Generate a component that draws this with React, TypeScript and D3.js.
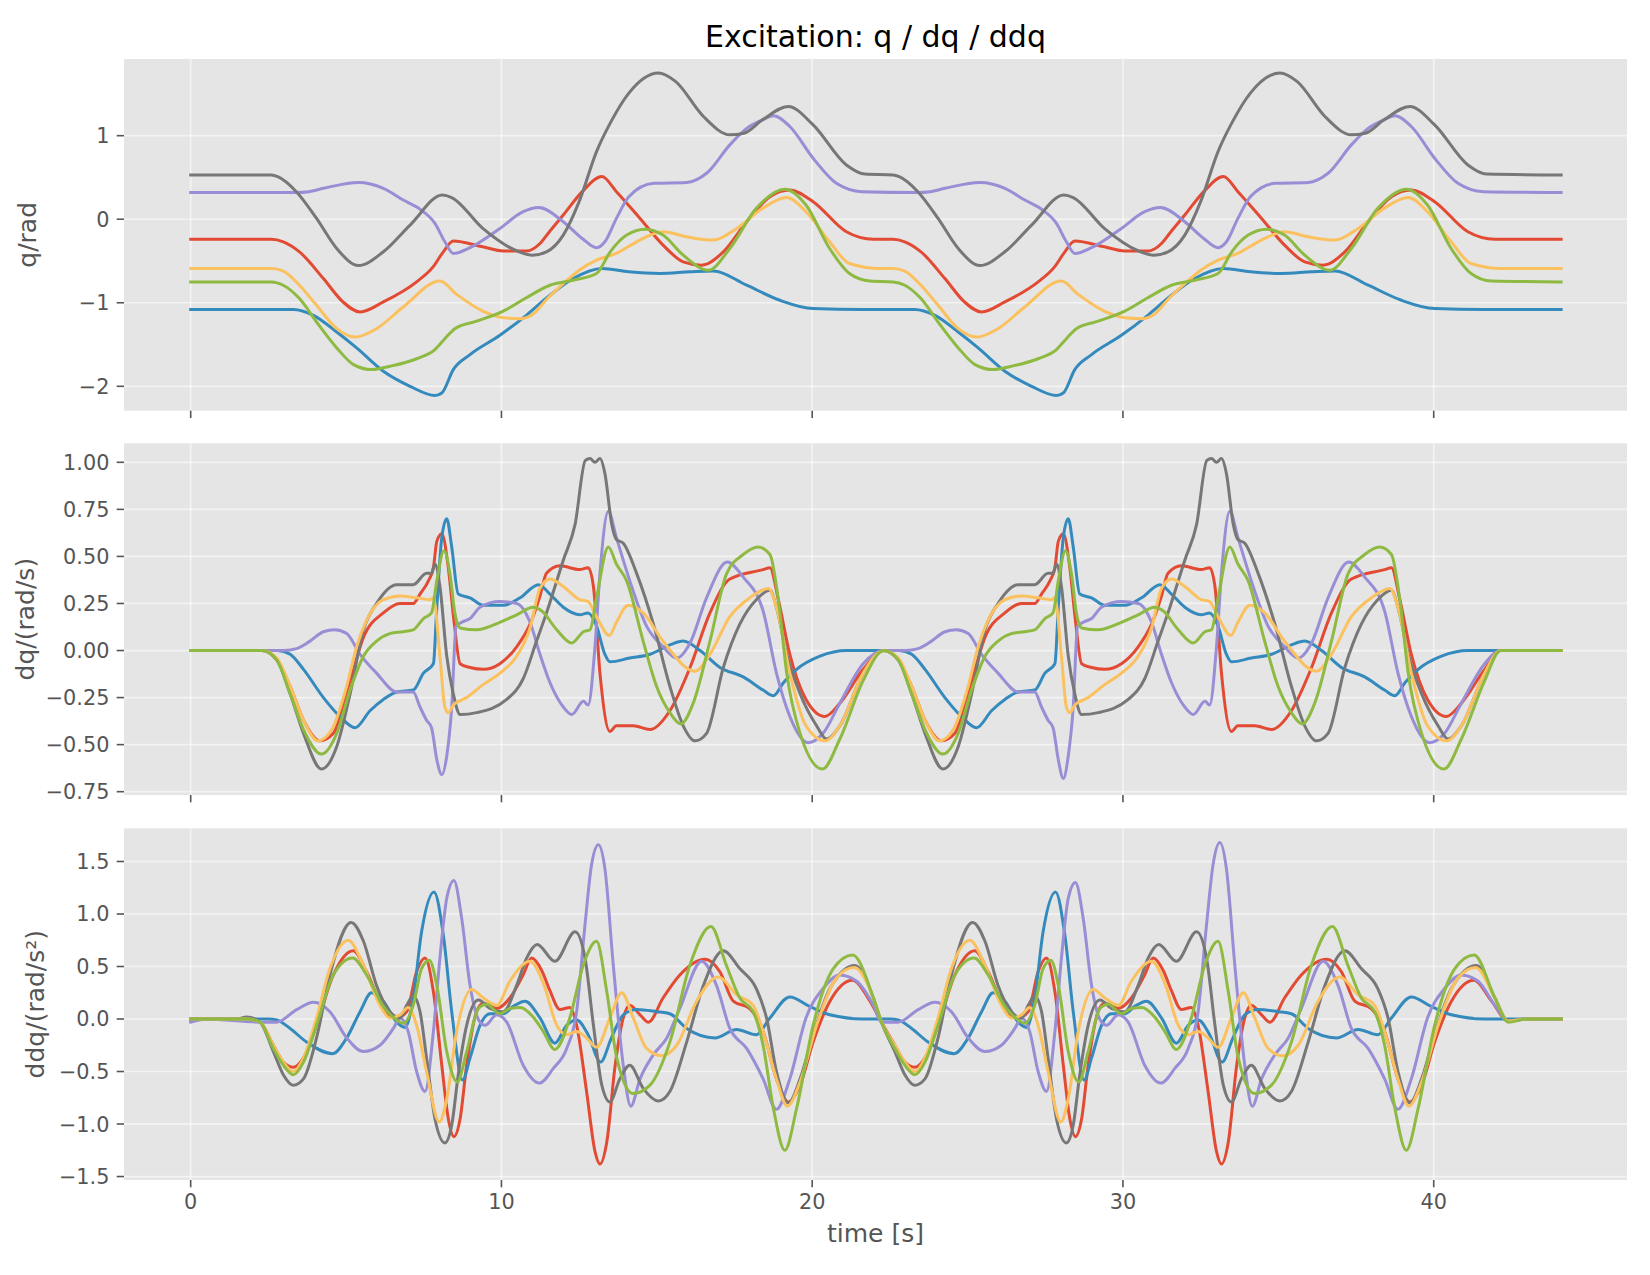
import * as d3 from "d3";

type Pt = [number, number];

// time ticks shared by all panels
const timeTicks = [0, 10, 20, 30, 40];
const colors = ["#E24A33", "#348ABD", "#988ED5", "#777777", "#FBC15E", "#8EBA42"];

// ---- q [rad] ----
const qRed: Pt[] = [[0,-0.24],[2.6,-0.24],[2.98,-0.27],[3.5,-0.39],[4.27,-0.71],[4.9,-0.99],[5.45,-1.11],[6.2,-0.99],[7.27,-0.75],[7.8,-0.57],[8.13,-0.39],[8.45,-0.26],[9.4,-0.33],[10.06,-0.38],[10.8,-0.38],[11.24,-0.29],[11.5,-0.17],[11.99,0.05],[12.6,0.33],[13.23,0.51],[13.7,0.33],[14.46,0.01],[15.2,-0.31],[15.85,-0.51],[16.44,-0.55],[17.14,-0.39],[17.89,-0.03],[18.64,0.27],[19.28,0.35],[20.03,0.21],[21.1,-0.15],[21.97,-0.24],
  [22.6,-0.24],[22.98,-0.27],[23.5,-0.39],[24.27,-0.71],[24.9,-0.99],[25.45,-1.11],[26.2,-0.99],[27.27,-0.75],[27.8,-0.57],[28.13,-0.39],[28.45,-0.26],[29.4,-0.33],[30.06,-0.38],[30.8,-0.38],[31.24,-0.29],[31.5,-0.17],[31.99,0.05],[32.6,0.33],[33.23,0.51],[33.7,0.33],[34.46,0.01],[35.2,-0.31],[35.85,-0.51],[36.44,-0.55],[37.14,-0.39],[37.89,-0.03],[38.64,0.27],[39.28,0.35],[40.03,0.21],[41.1,-0.15],[41.97,-0.24],[44.1,-0.24]];
const qBlue: Pt[] = [[0,-1.08],[3.3,-1.08],[3.95,-1.15],[4.7,-1.35],[5.34,-1.54],[6.2,-1.82],[7.06,-2.0],[7.86,-2.11],[8.08,-2.08],[8.45,-1.8],[8.99,-1.62],[9.95,-1.39],[10.8,-1.15],[11.56,-0.91],[12.31,-0.71],[13.23,-0.59],[14.1,-0.63],[15.1,-0.65],[16.07,-0.63],[16.82,-0.62],[17.89,-0.79],[18.96,-0.97],[20.03,-1.07],[21.6,-1.08],
  [23.3,-1.08],[23.95,-1.15],[24.7,-1.35],[25.34,-1.54],[26.2,-1.82],[27.06,-2.0],[27.86,-2.11],[28.08,-2.08],[28.45,-1.8],[28.99,-1.62],[29.95,-1.39],[30.8,-1.15],[31.56,-0.91],[32.31,-0.71],[33.23,-0.59],[34.1,-0.63],[35.1,-0.65],[36.07,-0.63],[36.82,-0.62],[37.89,-0.79],[38.96,-0.97],[40.03,-1.07],[41.6,-1.08],[44.1,-1.08]];
const qPurple: Pt[] = [[0,0.32],[3.4,0.32],[3.8,0.33],[4.27,0.37],[5.4,0.44],[6.2,0.37],[6.84,0.23],[7.38,0.12],[7.86,-0.05],[8.18,-0.27],[8.45,-0.41],[8.99,-0.34],[9.95,-0.11],[10.7,0.09],[11.2,0.14],[11.99,-0.03],[12.6,-0.23],[13.06,-0.34],[13.33,-0.27],[13.7,0.01],[14.1,0.27],[14.9,0.43],[15.96,0.44],[16.6,0.55],[17.35,0.89],[17.9,1.09],[18.4,1.19],[18.75,1.24],[19.28,1.11],[20.03,0.73],[20.78,0.43],[21.6,0.33],
  [23.4,0.32],[23.8,0.33],[24.27,0.37],[25.4,0.44],[26.2,0.37],[26.84,0.23],[27.38,0.12],[27.86,-0.05],[28.18,-0.27],[28.45,-0.41],[28.99,-0.34],[29.95,-0.11],[30.7,0.09],[31.2,0.14],[31.99,-0.03],[32.6,-0.23],[33.06,-0.34],[33.33,-0.27],[33.7,0.01],[34.1,0.27],[34.9,0.43],[35.96,0.44],[36.6,0.55],[37.35,0.89],[37.9,1.09],[38.4,1.19],[38.75,1.24],[39.28,1.11],[40.03,0.73],[40.78,0.43],[41.6,0.33],[44.1,0.32]];
const qGray: Pt[] = [[0,0.53],[2.6,0.53],[2.8,0.51],[3.4,0.33],[4.05,0.01],[4.7,-0.35],[5.4,-0.555],[6.2,-0.39],[7.06,-0.07],[8.1,0.29],[8.4,0.26],[9.4,-0.11],[10.5,-0.38],[11.0,-0.43],[11.45,-0.39],[11.99,-0.19],[12.5,0.21],[13.06,0.81],[13.5,1.15],[14.1,1.51],[15.05,1.75],[15.6,1.65],[16.5,1.23],[17.35,1.01],[17.8,1.03],[18.4,1.19],[19.23,1.35],[20.03,1.13],[21.1,0.65],[21.7,0.54],
  [22.6,0.53],[22.8,0.51],[23.4,0.33],[24.05,0.01],[24.7,-0.35],[25.4,-0.555],[26.2,-0.39],[27.06,-0.07],[28.1,0.29],[28.4,0.26],[29.4,-0.11],[30.5,-0.38],[31.0,-0.43],[31.45,-0.39],[31.99,-0.19],[32.5,0.21],[33.06,0.81],[33.5,1.15],[34.1,1.51],[35.05,1.75],[35.6,1.65],[36.5,1.23],[37.35,1.01],[37.8,1.03],[38.4,1.19],[39.23,1.35],[40.03,1.13],[41.1,0.65],[41.7,0.54],[44.1,0.53]];
const qYellow: Pt[] = [[0,-0.59],[2.6,-0.59],[2.98,-0.62],[3.5,-0.79],[4.05,-1.03],[4.7,-1.31],[5.29,-1.41],[5.98,-1.31],[6.84,-1.05],[8.02,-0.74],[8.56,-0.9],[9.4,-1.1],[10.06,-1.18],[10.6,-1.19],[11.0,-1.14],[11.5,-0.94],[11.99,-0.77],[12.5,-0.61],[13.06,-0.49],[13.7,-0.41],[14.35,-0.27],[15.2,-0.15],[15.96,-0.21],[16.82,-0.25],[17.57,-0.11],[18.4,0.13],[19.18,0.26],[19.8,0.09],[20.56,-0.27],[21.2,-0.53],[22.18,-0.59],
  [22.6,-0.59],[22.98,-0.62],[23.5,-0.79],[24.05,-1.03],[24.7,-1.31],[25.29,-1.41],[25.98,-1.31],[26.84,-1.05],[28.02,-0.74],[28.56,-0.9],[29.4,-1.1],[30.06,-1.18],[30.6,-1.19],[31.0,-1.14],[31.5,-0.94],[31.99,-0.77],[32.5,-0.61],[33.06,-0.49],[33.7,-0.41],[34.35,-0.27],[35.2,-0.15],[35.96,-0.21],[36.82,-0.25],[37.57,-0.11],[38.4,0.13],[39.18,0.26],[39.8,0.09],[40.56,-0.27],[41.2,-0.53],[42.18,-0.59],[44.1,-0.59]];
const qGreen: Pt[] = [[0,-0.75],[2.6,-0.75],[2.98,-0.79],[3.5,-0.95],[4.05,-1.23],[4.7,-1.54],[5.24,-1.74],[5.82,-1.8],[6.41,-1.76],[7.27,-1.67],[7.86,-1.56],[8.18,-1.43],[8.5,-1.31],[9.2,-1.22],[10.06,-1.1],[10.8,-0.94],[11.56,-0.79],[12.31,-0.73],[13.06,-0.65],[13.5,-0.39],[14.03,-0.19],[14.62,-0.12],[15.2,-0.19],[15.85,-0.43],[16.66,-0.61],[17.35,-0.35],[18.2,0.13],[19.12,0.36],[19.8,0.17],[20.56,-0.35],[21.2,-0.65],[21.86,-0.74],
  [22.6,-0.75],[22.98,-0.79],[23.5,-0.95],[24.05,-1.23],[24.7,-1.54],[25.24,-1.74],[25.82,-1.8],[26.41,-1.76],[27.27,-1.67],[27.86,-1.56],[28.18,-1.43],[28.5,-1.31],[29.2,-1.22],[30.06,-1.1],[30.8,-0.94],[31.56,-0.79],[32.31,-0.73],[33.06,-0.65],[33.5,-0.39],[34.03,-0.19],[34.62,-0.12],[35.2,-0.19],[35.85,-0.43],[36.66,-0.61],[37.35,-0.35],[38.2,0.13],[39.12,0.36],[39.8,0.17],[40.56,-0.35],[41.2,-0.65],[41.86,-0.74],[44.1,-0.75]];

// ---- dq [rad/s] ----
const dqRed: Pt[] = [[0,0],[2.3,0],[2.77,-0.05],[3.2,-0.19],[3.63,-0.37],[4.16,-0.48],[4.59,-0.44],[5.13,-0.16],[5.56,0.07],[6.2,0.2],[6.74,0.25],[7.16,0.25],[7.38,0.3],[7.65,0.37],[7.81,0.44],[7.92,0.58],[8.08,0.62],[8.29,0.44],[8.47,0.16],[8.67,-0.07],[8.99,-0.09],[9.42,-0.1],[9.95,-0.07],[10.49,0.02],[10.92,0.14],[11.24,0.29],[11.45,0.41],[11.88,0.45],[12.52,0.43],[12.79,0.44],[12.96,0.34],[13.17,-0.12],[13.49,-0.43],[13.7,-0.4],[14.24,-0.4],[14.78,-0.42],[15.42,-0.32],[16.07,-0.09],[16.71,0.2],[17.35,0.38],[18.42,0.43],[18.64,0.44],[18.91,0.27],[19.28,-0.02],[19.8,-0.26],[20.41,-0.35],[20.89,-0.28],[21.64,-0.1],
  [22.3,0],[22.77,-0.05],[23.2,-0.19],[23.63,-0.37],[24.16,-0.48],[24.59,-0.44],[25.13,-0.16],[25.56,0.07],[26.2,0.2],[26.74,0.25],[27.16,0.25],[27.38,0.3],[27.65,0.37],[27.81,0.44],[27.92,0.58],[28.08,0.62],[28.29,0.44],[28.47,0.16],[28.67,-0.07],[28.99,-0.09],[29.42,-0.1],[29.95,-0.07],[30.49,0.02],[30.92,0.14],[31.24,0.29],[31.45,0.41],[31.88,0.45],[32.52,0.43],[32.79,0.44],[32.96,0.34],[33.17,-0.12],[33.49,-0.43],[33.7,-0.4],[34.24,-0.4],[34.78,-0.42],[35.42,-0.32],[36.07,-0.09],[36.71,0.2],[37.35,0.38],[38.42,0.43],[38.64,0.44],[38.91,0.27],[39.28,-0.02],[39.8,-0.26],[40.41,-0.35],[40.89,-0.28],[41.64,-0.1],[42.15,0],[44.1,0]];
const dqBlue: Pt[] = [[0,0],[2.8,0],[3.2,-0.02],[3.63,-0.1],[4.27,-0.25],[4.8,-0.35],[5.29,-0.41],[5.77,-0.32],[6.2,-0.26],[6.63,-0.22],[7.16,-0.21],[7.49,-0.12],[7.81,-0.07],[7.92,0.23],[8.08,0.6],[8.24,0.7],[8.4,0.55],[8.61,0.3],[8.99,0.28],[9.42,0.24],[10.06,0.24],[10.6,0.28],[11.19,0.35],[11.56,0.3],[11.99,0.23],[12.52,0.19],[12.79,0.2],[13.06,0.13],[13.33,-0.02],[13.49,-0.06],[14.13,-0.04],[14.78,-0.02],[15.42,0.03],[15.85,0.05],[16.39,0],[17.03,-0.09],[17.78,-0.14],[18.42,-0.21],[18.75,-0.24],[19.08,-0.17],[19.5,-0.1],[20.25,-0.03],[21.11,0],
  [22.8,0],[23.2,-0.02],[23.63,-0.1],[24.27,-0.25],[24.8,-0.35],[25.29,-0.41],[25.77,-0.32],[26.2,-0.26],[26.63,-0.22],[27.16,-0.21],[27.49,-0.12],[27.81,-0.07],[27.92,0.23],[28.08,0.6],[28.24,0.7],[28.4,0.55],[28.61,0.3],[28.99,0.28],[29.42,0.24],[30.06,0.24],[30.6,0.28],[31.19,0.35],[31.56,0.3],[31.99,0.23],[32.52,0.19],[32.79,0.2],[33.06,0.13],[33.33,-0.02],[33.49,-0.06],[34.13,-0.04],[34.78,-0.02],[35.42,0.03],[35.85,0.05],[36.39,0],[37.03,-0.09],[37.78,-0.14],[38.42,-0.21],[38.75,-0.24],[39.08,-0.17],[39.5,-0.1],[40.25,-0.03],[41.11,0],[44.1,0]];
const dqPurple: Pt[] = [[0,0],[3.0,0],[3.41,0.01],[3.84,0.05],[4.27,0.1],[4.64,0.11],[5.02,0.09],[5.45,-0.02],[5.98,-0.12],[6.63,-0.22],[7.16,-0.22],[7.38,-0.3],[7.59,-0.37],[7.75,-0.41],[7.92,-0.58],[8.08,-0.66],[8.24,-0.56],[8.4,-0.3],[8.54,0.13],[8.72,0.15],[8.99,0.17],[9.31,0.23],[9.95,0.26],[10.49,0.25],[10.92,0.15],[11.24,-0.02],[11.56,-0.17],[11.99,-0.3],[12.26,-0.34],[12.64,-0.27],[12.79,-0.29],[13.01,0.02],[13.17,0.41],[13.44,0.74],[13.7,0.6],[14.13,0.37],[14.67,0.13],[15.2,0.02],[15.64,-0.04],[16.07,0.04],[16.6,0.28],[17.27,0.47],[17.78,0.39],[18.42,0.21],[18.85,-0.12],[19.28,-0.35],[19.87,-0.49],[20.35,-0.44],[20.89,-0.28],[21.64,-0.07],
  [22.3,0],[23.0,0],[23.41,0.01],[23.84,0.05],[24.27,0.1],[24.64,0.11],[25.02,0.09],[25.45,-0.02],[25.98,-0.12],[26.63,-0.22],[27.16,-0.22],[27.38,-0.3],[27.59,-0.37],[27.75,-0.41],[27.92,-0.58],[28.08,-0.68],[28.24,-0.56],[28.4,-0.3],[28.54,0.13],[28.72,0.15],[28.99,0.17],[29.31,0.23],[29.95,0.26],[30.49,0.25],[30.92,0.15],[31.24,-0.02],[31.56,-0.17],[31.99,-0.3],[32.26,-0.34],[32.64,-0.27],[32.79,-0.29],[33.01,0.02],[33.17,0.41],[33.44,0.74],[33.7,0.6],[34.13,0.37],[34.67,0.13],[35.2,0.02],[35.64,-0.04],[36.07,0.04],[36.6,0.28],[37.27,0.47],[37.78,0.39],[38.42,0.21],[38.85,-0.12],[39.28,-0.35],[39.87,-0.49],[40.35,-0.44],[40.89,-0.28],[41.64,-0.07],[42.15,0],[44.1,0]];
const dqGray: Pt[] = [[0,0],[2.3,0],[2.77,-0.05],[3.2,-0.23],[3.63,-0.44],[4.21,-0.63],[4.7,-0.51],[5.13,-0.23],[5.56,0.11],[5.98,0.25],[6.63,0.35],[7.16,0.35],[7.59,0.41],[7.75,0.41],[7.86,0.46],[8.02,0.34],[8.24,-0.03],[8.45,-0.23],[8.67,-0.34],[9.2,-0.33],[10.17,-0.26],[10.7,-0.15],[11.13,0.05],[11.45,0.2],[11.99,0.48],[12.37,0.67],[12.7,1.01],[12.85,1.02],[13.01,1.0],[13.17,1.02],[13.33,0.94],[13.55,0.67],[13.7,0.59],[13.92,0.57],[14.35,0.41],[14.89,0.14],[15.42,-0.19],[15.85,-0.4],[16.23,-0.48],[16.6,-0.44],[17.14,-0.09],[17.67,0.14],[18.2,0.27],[18.64,0.32],[18.85,0.23],[19.18,-0.02],[19.61,-0.23],[20.14,-0.4],[20.46,-0.47],[20.89,-0.4],[21.64,-0.12],
  [22.3,0],[22.77,-0.05],[23.2,-0.23],[23.63,-0.44],[24.21,-0.63],[24.7,-0.51],[25.13,-0.23],[25.56,0.11],[25.98,0.25],[26.63,0.35],[27.16,0.35],[27.59,0.41],[27.75,0.41],[27.86,0.46],[28.02,0.34],[28.24,-0.03],[28.45,-0.23],[28.67,-0.34],[29.2,-0.33],[30.17,-0.26],[30.7,-0.15],[31.13,0.05],[31.45,0.2],[31.99,0.48],[32.37,0.67],[32.7,1.01],[32.85,1.02],[33.01,1.0],[33.17,1.02],[33.33,0.94],[33.55,0.67],[33.7,0.59],[33.92,0.57],[34.35,0.41],[34.89,0.14],[35.42,-0.19],[35.85,-0.4],[36.23,-0.48],[36.6,-0.44],[37.14,-0.09],[37.67,0.14],[38.2,0.27],[38.64,0.32],[38.85,0.23],[39.18,-0.02],[39.61,-0.23],[40.14,-0.4],[40.46,-0.47],[40.89,-0.4],[41.64,-0.12],[42.15,0],[44.1,0]];
const dqYellow: Pt[] = [[0,0],[2.3,0],[2.77,-0.04],[3.2,-0.19],[3.63,-0.37],[4.1,-0.48],[4.54,-0.42],[5.02,-0.19],[5.34,0.02],[5.66,0.16],[6.2,0.27],[6.74,0.29],[7.27,0.28],[7.7,0.27],[7.81,0.28],[8.02,-0.03],[8.18,-0.3],[8.29,-0.33],[8.45,-0.29],[8.88,-0.25],[9.42,-0.18],[9.95,-0.12],[10.49,-0.03],[10.92,0.12],[11.24,0.33],[11.56,0.38],[11.99,0.34],[12.52,0.27],[12.79,0.26],[13.06,0.18],[13.47,0.08],[13.7,0.15],[14.08,0.24],[14.56,0.2],[15.2,0.05],[16.23,-0.11],[16.71,-0.02],[17.35,0.18],[17.99,0.28],[18.59,0.33],[18.85,0.23],[19.28,-0.12],[19.8,-0.4],[20.41,-0.48],[20.89,-0.4],[21.64,-0.12],
  [22.3,0],[22.77,-0.04],[23.2,-0.19],[23.63,-0.37],[24.1,-0.48],[24.54,-0.42],[25.02,-0.19],[25.34,0.02],[25.66,0.16],[26.2,0.27],[26.74,0.29],[27.27,0.28],[27.7,0.27],[27.81,0.28],[28.02,-0.03],[28.18,-0.3],[28.29,-0.33],[28.45,-0.29],[28.88,-0.25],[29.42,-0.18],[29.95,-0.12],[30.49,-0.03],[30.92,0.12],[31.24,0.33],[31.56,0.38],[31.99,0.34],[32.52,0.27],[32.79,0.26],[33.06,0.18],[33.47,0.08],[33.7,0.15],[34.08,0.24],[34.56,0.2],[35.2,0.05],[36.23,-0.11],[36.71,-0.02],[37.35,0.18],[37.99,0.28],[38.59,0.33],[38.85,0.23],[39.28,-0.12],[39.8,-0.4],[40.41,-0.48],[40.89,-0.4],[41.64,-0.12],[42.15,0],[44.1,0]];
const dqGreen: Pt[] = [[0,0],[2.3,0],[2.77,-0.05],[3.2,-0.23],[3.63,-0.42],[4.21,-0.55],[4.7,-0.44],[5.13,-0.21],[5.56,-0.03],[5.98,0.05],[6.41,0.09],[6.84,0.1],[7.16,0.11],[7.49,0.17],[7.75,0.2],[7.92,0.37],[8.15,0.53],[8.34,0.41],[8.5,0.2],[8.67,0.12],[9.2,0.11],[9.95,0.15],[10.49,0.19],[11.02,0.23],[11.3,0.21],[11.78,0.11],[12.26,0.04],[12.64,0.1],[12.85,0.11],[13.06,0.28],[13.44,0.55],[13.7,0.46],[14.03,0.37],[14.56,0.05],[14.99,-0.19],[15.42,-0.33],[15.77,-0.39],[16.17,-0.28],[16.71,0.05],[17.25,0.41],[17.78,0.51],[18.26,0.55],[18.64,0.51],[18.91,0.27],[19.18,-0.12],[19.61,-0.44],[20.33,-0.63],[20.89,-0.47],[21.64,-0.16],
  [22.3,0],[22.77,-0.05],[23.2,-0.23],[23.63,-0.42],[24.21,-0.55],[24.7,-0.44],[25.13,-0.21],[25.56,-0.03],[25.98,0.05],[26.41,0.09],[26.84,0.1],[27.16,0.11],[27.49,0.17],[27.75,0.2],[27.92,0.37],[28.15,0.53],[28.34,0.41],[28.5,0.2],[28.67,0.12],[29.2,0.11],[29.95,0.15],[30.49,0.19],[31.02,0.23],[31.3,0.21],[31.78,0.11],[32.26,0.04],[32.64,0.1],[32.85,0.11],[33.06,0.28],[33.44,0.55],[33.7,0.46],[34.03,0.37],[34.56,0.05],[34.99,-0.19],[35.42,-0.33],[35.77,-0.39],[36.17,-0.28],[36.71,0.05],[37.25,0.41],[37.78,0.51],[38.26,0.55],[38.64,0.51],[38.91,0.27],[39.18,-0.12],[39.61,-0.44],[40.33,-0.63],[40.89,-0.47],[41.64,-0.16],[42.15,0],[44.1,0]];

// ---- ddq [rad/s^2] ----
const ddqRed: Pt[] = [[0,0],[1.8,0],[2.23,-0.03],[2.66,-0.25],[2.98,-0.41],[3.3,-0.46],[3.63,-0.37],[4.05,-0.06],[4.59,0.42],[5.23,0.65],[5.66,0.45],[6.2,0.1],[6.63,0.01],[6.95,0.07],[7.27,0.45],[7.54,0.58],[7.81,0.26],[8.08,-0.44],[8.29,-0.95],[8.47,-1.12],[8.67,-0.95],[8.88,-0.44],[9.2,0.07],[9.42,0.15],[9.85,0.1],[10.27,0.2],[10.7,0.42],[10.97,0.58],[11.3,0.46],[11.56,0.27],[11.88,0.09],[12.2,0.11],[12.42,-0.06],[12.74,-0.69],[13.01,-1.26],[13.17,-1.38],[13.39,-1.17],[13.66,-0.44],[13.92,0.01],[14.13,0.13],[14.46,0.04],[14.73,-0.03],[15.2,0.2],[15.74,0.42],[16.55,0.57],[17.03,0.45],[17.46,0.17],[17.99,0.1],[18.42,-0.12],[18.85,-0.57],[19.23,-0.79],[19.61,-0.63],[20.03,-0.22],[20.57,0.17],[21.3,0.37],[21.86,0.17],
  [22.23,-0.03],[22.66,-0.25],[22.98,-0.41],[23.3,-0.46],[23.63,-0.37],[24.05,-0.06],[24.59,0.42],[25.23,0.65],[25.66,0.45],[26.2,0.1],[26.63,0.01],[26.95,0.07],[27.27,0.45],[27.54,0.58],[27.81,0.26],[28.08,-0.44],[28.29,-0.95],[28.47,-1.12],[28.67,-0.95],[28.88,-0.44],[29.2,0.07],[29.42,0.15],[29.85,0.1],[30.27,0.2],[30.7,0.42],[30.97,0.58],[31.3,0.46],[31.56,0.27],[31.88,0.09],[32.2,0.11],[32.42,-0.06],[32.74,-0.69],[33.01,-1.26],[33.17,-1.38],[33.39,-1.17],[33.66,-0.44],[33.92,0.01],[34.13,0.13],[34.46,0.04],[34.73,-0.03],[35.2,0.2],[35.74,0.42],[36.55,0.57],[37.03,0.45],[37.46,0.17],[37.99,0.1],[38.42,-0.12],[38.85,-0.57],[39.23,-0.79],[39.61,-0.63],[40.03,-0.22],[40.57,0.17],[41.3,0.37],[41.86,0.17],[42.4,-0.02],[43.0,0],[44.1,0]];
const ddqBlue: Pt[] = [[0,0],[2.5,0],[2.77,-0.01],[3.2,-0.09],[3.73,-0.22],[4.57,-0.33],[5.02,-0.18],[5.45,0.07],[5.82,0.25],[6.2,0.17],[6.63,-0.03],[6.9,-0.08],[7.16,0.2],[7.43,0.83],[7.83,1.21],[8.13,0.8],[8.4,0.07],[8.75,-0.58],[8.99,-0.37],[9.31,-0.06],[9.63,0.05],[10.06,0.05],[10.38,0.12],[10.76,0.17],[11.24,0.01],[11.72,-0.23],[12.1,-0.06],[12.42,-0.01],[12.79,-0.15],[13.19,-0.41],[13.54,-0.18],[13.92,0.04],[14.35,0.09],[14.99,0.07],[15.42,0.05],[15.96,-0.09],[16.87,-0.18],[17.57,-0.1],[18.2,-0.15],[18.64,0.01],[19.28,0.21],[19.92,0.12],[20.57,0.04],[21.64,0],
  [22.5,0],[22.77,-0.01],[23.2,-0.09],[23.73,-0.22],[24.57,-0.33],[25.02,-0.18],[25.45,0.07],[25.82,0.25],[26.2,0.17],[26.63,-0.03],[26.9,-0.08],[27.16,0.2],[27.43,0.83],[27.83,1.21],[28.13,0.8],[28.4,0.07],[28.75,-0.58],[28.99,-0.37],[29.31,-0.06],[29.63,0.05],[30.06,0.05],[30.38,0.12],[30.76,0.17],[31.24,0.01],[31.72,-0.23],[32.1,-0.06],[32.42,-0.01],[32.79,-0.15],[33.19,-0.41],[33.54,-0.18],[33.92,0.04],[34.35,0.09],[34.99,0.07],[35.42,0.05],[35.96,-0.09],[36.87,-0.18],[37.57,-0.1],[38.2,-0.15],[38.64,0.01],[39.28,0.21],[39.92,0.12],[40.57,0.04],[41.64,0],[44.1,0]];
const ddqPurple: Pt[] = [[0,-0.03],[0.5,0],[2.23,-0.03],[2.77,-0.03],[3.41,0.09],[3.95,0.16],[4.48,0.07],[5.02,-0.18],[5.56,-0.31],[6.09,-0.25],[6.52,-0.09],[6.74,0.01],[7.0,-0.12],[7.27,-0.5],[7.54,-0.69],[7.81,-0.12],[8.02,0.58],[8.24,1.15],[8.47,1.32],[8.72,0.96],[8.99,0.32],[9.31,-0.03],[9.47,-0.06],[9.85,0.04],[10.17,-0.03],[10.7,-0.44],[11.22,-0.61],[11.67,-0.47],[12.1,-0.28],[12.42,0.07],[12.69,0.9],[12.9,1.47],[13.12,1.66],[13.33,1.43],[13.6,0.51],[13.92,-0.44],[14.16,-0.83],[14.46,-0.57],[14.89,-0.34],[15.32,-0.18],[15.74,0.1],[16.44,0.55],[16.92,0.32],[17.35,-0.09],[17.89,-0.28],[18.42,-0.57],[18.85,-0.86],[19.28,-0.57],[19.8,0.01],[20.35,0.29],[20.89,0.42],[21.43,0.36],[21.97,0.13],
  [22.23,-0.03],[22.77,-0.03],[23.41,0.09],[23.95,0.16],[24.48,0.07],[25.02,-0.18],[25.56,-0.31],[26.09,-0.25],[26.52,-0.09],[26.74,0.01],[27.0,-0.12],[27.27,-0.5],[27.54,-0.69],[27.81,-0.12],[28.02,0.58],[28.24,1.15],[28.47,1.3],[28.72,0.96],[28.99,0.32],[29.31,-0.03],[29.47,-0.06],[29.85,0.04],[30.17,-0.03],[30.7,-0.44],[31.22,-0.61],[31.67,-0.47],[32.1,-0.28],[32.42,0.07],[32.69,0.9],[32.9,1.47],[33.12,1.68],[33.33,1.43],[33.6,0.51],[33.92,-0.44],[34.16,-0.83],[34.46,-0.57],[34.89,-0.34],[35.32,-0.18],[35.74,0.1],[36.44,0.55],[36.92,0.32],[37.35,-0.09],[37.89,-0.28],[38.42,-0.57],[38.85,-0.86],[39.28,-0.57],[39.8,0.01],[40.35,0.29],[40.89,0.42],[41.43,0.36],[41.97,0.13],[42.4,-0.02],[43.0,0],[44.1,0]];
const ddqGray: Pt[] = [[0,0],[1.5,0],[1.8,0.02],[2.23,-0.03],[2.66,-0.31],[2.98,-0.53],[3.3,-0.63],[3.63,-0.57],[4.05,-0.18],[4.48,0.42],[5.16,0.92],[5.56,0.74],[5.98,0.32],[6.41,0.07],[6.74,0.01],[6.95,0.13],[7.16,0.22],[7.38,0.07],[7.59,-0.37],[7.86,-0.95],[8.18,-1.18],[8.4,-1.01],[8.61,-0.53],[8.88,-0.06],[9.26,0.18],[9.63,0.1],[10.06,0.07],[10.49,0.32],[10.81,0.58],[11.15,0.71],[11.72,0.55],[12.37,0.83],[12.69,0.58],[12.96,-0.06],[13.23,-0.63],[13.49,-0.79],[13.81,-0.57],[14.13,-0.44],[14.56,-0.66],[15.05,-0.78],[15.42,-0.69],[15.96,-0.22],[16.5,0.32],[17.14,0.65],[17.67,0.48],[18.2,0.29],[18.53,0.01],[18.85,-0.5],[19.23,-0.8],[19.61,-0.57],[20.03,-0.15],[20.57,0.29],[21.38,0.51],[21.97,0.2],
  [22.23,-0.03],[22.66,-0.31],[22.98,-0.53],[23.3,-0.63],[23.63,-0.57],[24.05,-0.18],[24.48,0.42],[25.16,0.92],[25.56,0.74],[25.98,0.32],[26.41,0.07],[26.74,0.01],[26.95,0.13],[27.16,0.22],[27.38,0.07],[27.59,-0.37],[27.86,-0.95],[28.18,-1.18],[28.4,-1.01],[28.61,-0.53],[28.88,-0.06],[29.26,0.18],[29.63,0.1],[30.06,0.07],[30.49,0.32],[30.81,0.58],[31.15,0.71],[31.72,0.55],[32.37,0.83],[32.69,0.58],[32.96,-0.06],[33.23,-0.63],[33.49,-0.79],[33.81,-0.57],[34.13,-0.44],[34.56,-0.66],[35.05,-0.78],[35.42,-0.69],[35.96,-0.22],[36.5,0.32],[37.14,0.65],[37.67,0.48],[38.2,0.29],[38.53,0.01],[38.85,-0.5],[39.23,-0.8],[39.61,-0.57],[40.03,-0.15],[40.57,0.29],[41.38,0.51],[41.97,0.2],[42.4,-0.02],[43.0,0],[44.1,0]];
const ddqYellow: Pt[] = [[0,0],[1.8,0],[2.23,-0.03],[2.66,-0.25],[2.98,-0.41],[3.3,-0.5],[3.63,-0.37],[4.05,0.01],[4.48,0.48],[5.07,0.75],[5.56,0.51],[6.09,0.13],[6.41,0.01],[6.74,0.04],[7.0,0.11],[7.27,-0.06],[7.59,-0.5],[8.0,-0.98],[8.24,-0.76],[8.56,-0.12],[9.04,0.28],[9.42,0.2],[9.85,0.13],[10.27,0.36],[10.92,0.55],[11.35,0.34],[11.78,-0.06],[12.1,-0.15],[12.42,-0.12],[12.74,-0.18],[13.06,-0.27],[13.49,0.01],[13.87,0.25],[14.24,0.01],[14.67,-0.28],[15.15,-0.35],[15.64,-0.25],[16.28,0.17],[16.98,0.4],[17.57,0.23],[18.1,0.13],[18.42,-0.12],[18.85,-0.57],[19.2,-0.83],[19.61,-0.6],[20.14,-0.06],[20.78,0.39],[21.35,0.49],[21.97,0.2],
  [22.23,-0.03],[22.66,-0.25],[22.98,-0.41],[23.3,-0.5],[23.63,-0.37],[24.05,0.01],[24.48,0.48],[25.07,0.75],[25.56,0.51],[26.09,0.13],[26.41,0.01],[26.74,0.04],[27.0,0.11],[27.27,-0.06],[27.59,-0.5],[28.0,-0.98],[28.24,-0.76],[28.56,-0.12],[29.04,0.28],[29.42,0.2],[29.85,0.13],[30.27,0.36],[30.92,0.55],[31.35,0.34],[31.78,-0.06],[32.1,-0.15],[32.42,-0.12],[32.74,-0.18],[33.06,-0.27],[33.49,0.01],[33.87,0.25],[34.24,0.01],[34.67,-0.28],[35.15,-0.35],[35.64,-0.25],[36.28,0.17],[36.98,0.4],[37.57,0.23],[38.1,0.13],[38.42,-0.12],[38.85,-0.57],[39.2,-0.83],[39.61,-0.6],[40.14,-0.06],[40.78,0.39],[41.35,0.49],[41.97,0.2],[42.4,-0.02],[43.0,0],[44.1,0]];
const ddqGreen: Pt[] = [[0,0],[1.8,0],[2.23,-0.03],[2.66,-0.28],[2.98,-0.44],[3.3,-0.53],[3.63,-0.41],[4.05,-0.06],[4.59,0.42],[5.21,0.58],[5.66,0.42],[6.2,0.12],[6.63,-0.01],[6.84,-0.04],[7.16,0.13],[7.43,0.48],[7.68,0.56],[7.92,0.32],[8.24,-0.31],[8.58,-0.6],[8.88,-0.31],[9.26,0.1],[9.52,0.14],[9.95,0.05],[10.27,0.1],[10.6,0.11],[11.02,0.02],[11.35,-0.12],[11.72,-0.29],[12.2,0.01],[12.63,0.51],[13.06,0.74],[13.39,0.26],[13.71,-0.37],[14.24,-0.71],[14.78,-0.63],[15.42,-0.22],[16.06,0.51],[16.74,0.88],[17.24,0.51],[17.67,0.2],[18.1,0.07],[18.42,-0.25],[18.75,-0.85],[19.12,-1.25],[19.5,-0.85],[20.03,-0.06],[20.68,0.48],[21.3,0.61],[21.97,0.2],
  [22.23,-0.03],[22.66,-0.28],[22.98,-0.44],[23.3,-0.53],[23.63,-0.41],[24.05,-0.06],[24.59,0.42],[25.21,0.58],[25.66,0.42],[26.2,0.12],[26.63,-0.01],[26.84,-0.04],[27.16,0.13],[27.43,0.48],[27.68,0.56],[27.92,0.32],[28.24,-0.31],[28.58,-0.6],[28.88,-0.31],[29.26,0.1],[29.52,0.14],[29.95,0.05],[30.27,0.1],[30.6,0.11],[31.02,0.02],[31.35,-0.12],[31.72,-0.29],[32.2,0.01],[32.63,0.51],[33.06,0.74],[33.39,0.26],[33.71,-0.37],[34.24,-0.71],[34.78,-0.63],[35.42,-0.22],[36.06,0.51],[36.74,0.88],[37.24,0.51],[37.67,0.2],[38.1,0.07],[38.42,-0.25],[38.75,-0.85],[39.12,-1.25],[39.5,-0.85],[40.03,-0.06],[40.68,0.48],[41.3,0.61],[41.97,0.2],[42.4,-0.03],[43.0,0],[44.1,0]];

const qTicks = [-2, -1, 0, 1];
const dqTicks = [-0.75, -0.5, -0.25, 0, 0.25, 0.5, 0.75, 1.0];
const ddqTicks = [-1.5, -1.0, -0.5, 0, 0.5, 1.0, 1.5];

const FONT = "DejaVu Sans";
const LEFT = 124;
const RIGHT = 1627;

export default function App() {
  const x = d3.scaleLinear().domain([-2.146, 46.22]).range([LEFT, RIGHT]);

  const panels = [
    { id: "q", label: "q/rad", labelX: 36, top: 59, bottom: 410.7, domain: [-2.292, 1.918], ticks: qTicks, fmt: d3.format("d"), series: [qRed, qBlue, qPurple, qGray, qYellow, qGreen] },
    { id: "dq", label: "dq/(rad/s)", labelX: 34, top: 443.3, bottom: 795, domain: [-0.7676, 1.101], ticks: dqTicks, fmt: d3.format(".2f"), series: [dqRed, dqBlue, dqPurple, dqGray, dqYellow, dqGreen] },
    { id: "ddq", label: "ddq/(rad/s²)", labelX: 44, top: 828.3, bottom: 1180, domain: [-1.533, 1.816], ticks: ddqTicks, fmt: d3.format(".1f"), series: [ddqRed, ddqBlue, ddqPurple, ddqGray, ddqYellow, ddqGreen] },
  ];

  return (
    <svg width={1650} height={1275} style={{ position: "absolute", left: 0, top: 0, display: "block" }} fontFamily={FONT}>
      <rect width={1650} height={1275} fill="#ffffff" />
      <text x={(LEFT + RIGHT) / 2} y={47} textAnchor="middle" fontSize={30} fill="#000">Excitation: q / dq / ddq</text>
      {panels.map((p, pi) => {
        const y = d3.scaleLinear().domain(p.domain).range([p.bottom, p.top]);
        const line = d3.line<Pt>().x(d => x(d[0])).y(d => y(d[1])).curve(d3.curveMonotoneX);
        const clipId = `clip-${p.id}`;
        return (
          <g key={p.id}>
            <defs>
              <clipPath id={clipId}>
                <rect x={LEFT} y={p.top} width={RIGHT - LEFT} height={p.bottom - p.top} />
              </clipPath>
            </defs>
            <rect x={LEFT} y={p.top} width={RIGHT - LEFT} height={p.bottom - p.top} fill="#E5E5E5" />
            {p.ticks.map(t => (
              <line key={"gy" + t} x1={LEFT} x2={RIGHT} y1={y(t)} y2={y(t)} stroke="#fff" strokeOpacity={0.55} strokeWidth={1.7} />
            ))}
            {timeTicks.map(t => (
              <line key={"gx" + t} x1={x(t)} x2={x(t)} y1={p.top} y2={p.bottom} stroke="#fff" strokeOpacity={0.55} strokeWidth={1.7} />
            ))}
            <g clipPath={`url(#${clipId})`}>
              {p.series.map((s, i) => (
                <path key={i} d={line(s) ?? ""} fill="none" stroke={colors[i]} strokeWidth={3} strokeLinejoin="round" strokeLinecap="square" />
              ))}
            </g>
            {p.ticks.map(t => (
              <g key={"ty" + t}>
                <line x1={LEFT - 7.3} x2={LEFT} y1={y(t)} y2={y(t)} stroke="#555" strokeWidth={1.6} />
                <text x={LEFT - 14.6} y={y(t)} dy="0.36em" textAnchor="end" fontSize={20.8} fill="#555">{p.fmt(t)}</text>
              </g>
            ))}
            {timeTicks.map(t => (
              <line key={"tx" + t} x1={x(t)} x2={x(t)} y1={p.bottom} y2={p.bottom + 7.3} stroke="#555" strokeWidth={1.6} />
            ))}
            {pi === panels.length - 1 && timeTicks.map(t => (
              <text key={"lx" + t} x={x(t)} y={1209} textAnchor="middle" fontSize={20.8} fill="#555">{d3.format("d")(t)}</text>
            ))}
            <text transform={`translate(${p.labelX},${(p.top + p.bottom) / 2}) rotate(-90)`} textAnchor="middle" fontSize={25} fill="#555">{p.label}</text>
          </g>
        );
      })}
      <text x={(LEFT + RIGHT) / 2} y={1242} textAnchor="middle" fontSize={25} fill="#555">time [s]</text>
    </svg>
  );
}
